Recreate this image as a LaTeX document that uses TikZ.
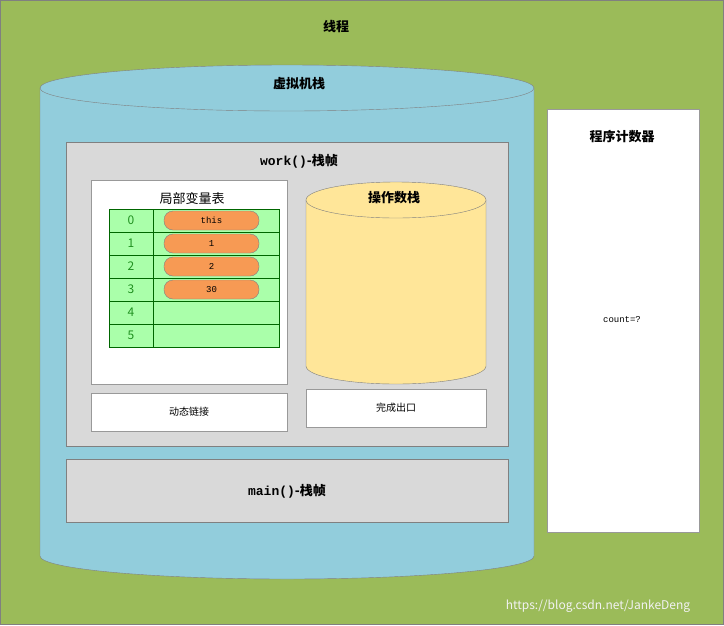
\documentclass[tikz,border=0pt]{standalone}
\usepackage{fontspec}
\setmainfont{Noto Sans CJK SC}
\setmonofont{Liberation Mono}
\usetikzlibrary{shapes.geometric}
\definecolor{bggreen}{HTML}{9BBB59}
\definecolor{cylblue}{HTML}{92CDDC}
\definecolor{framegray}{HTML}{D9D9D9}
\definecolor{tabgreen}{HTML}{AAFFAA}
\definecolor{pill}{HTML}{F79A54}
\definecolor{opyel}{HTML}{FFE699}
\definecolor{numgreen}{HTML}{209020}
\tikzset{
 box/.style={draw=gray!80,fill=white},
 ttl/.style={font=\bfseries\fontsize{13}{15}\selectfont},
 sm/.style={font=\fontsize{10}{12}\selectfont},
}
\begin{document}
\begin{tikzpicture}[x=1pt,y=-1pt]
\fill[bggreen] (0,0) rectangle (724,625);
\draw[gray] (0.5,0.5) rectangle (723.5,624.5);
\node[ttl] (t) at (336,27) {线程};
% JVM stack cylinder
\draw[gray,fill=cylblue] (40,88) -- (40,556) arc[x radius=247,y radius=23,start angle=180,end angle=0] -- (534,88);
\draw[gray,fill=cylblue] (287,88) ellipse[x radius=247,y radius=23];
\node[ttl] (jvm) at (299,84) {虚拟机栈};
% PC
\draw[box] (547,109) rectangle (699,532);
\node[ttl] (pc) at (622,137) {程序计数器};
\node[font=\ttfamily\fontsize{9}{11}\selectfont] (cnt) at (622,320) {count=?};
% work frame
\draw[gray,fill=framegray] (66,142) rectangle (508,446);
\node[ttl] (wf) at (299,161) {\ttfamily work()\rmfamily -栈帧};
\draw[box] (91,180) rectangle (287,384);
\node[font=\fontsize{13}{15}\selectfont] (lv) at (192,199) {局部变量表};
\foreach \i/\v in {0/this,1/1,2/2,3/30,4/,5/}{
  \draw[draw=green!40!black,fill=tabgreen] (109,209+23*\i) rectangle (153,232+23*\i);
  \draw[draw=green!40!black,fill=tabgreen] (153,209+23*\i) rectangle (279,232+23*\i);
  \node[text=numgreen,font=\fontsize{12}{14}\selectfont] at (131,220.5+23*\i) {\i};
}
\foreach \i/\v in {0/this,1/1,2/2,3/30}{
  \draw[gray,fill=pill,rounded corners=9pt] (164,211+23*\i) rectangle (259,230+23*\i);
  \node[font=\ttfamily\fontsize{9}{11}\selectfont] at (211.5,220.5+23*\i) {\v};
}
% operand stack
\draw[gray,fill=opyel] (306,200) -- (306,366) arc[x radius=90,y radius=18,start angle=180,end angle=0] -- (486,200);
\draw[gray,fill=opyel] (396,200) ellipse[x radius=90,y radius=18];
\node[ttl] (op) at (394,198) {操作数栈};
\draw[box] (91,393) rectangle (287,431);
\node[sm] (dl) at (189,412) {动态链接};
\draw[box] (306,389) rectangle (486,427);
\node[sm] (ex) at (396,408) {完成出口};
% main frame
\draw[gray,fill=framegray] (66,459) rectangle (508,522);
\node[ttl] (mf) at (287,491) {\ttfamily main()\rmfamily -栈帧};
\node[text=white!90!gray,font=\fontsize{12}{14}\selectfont] (wm) at (598,606) {https://blog.csdn.net/JankeDeng};
\end{tikzpicture}
\end{document}
